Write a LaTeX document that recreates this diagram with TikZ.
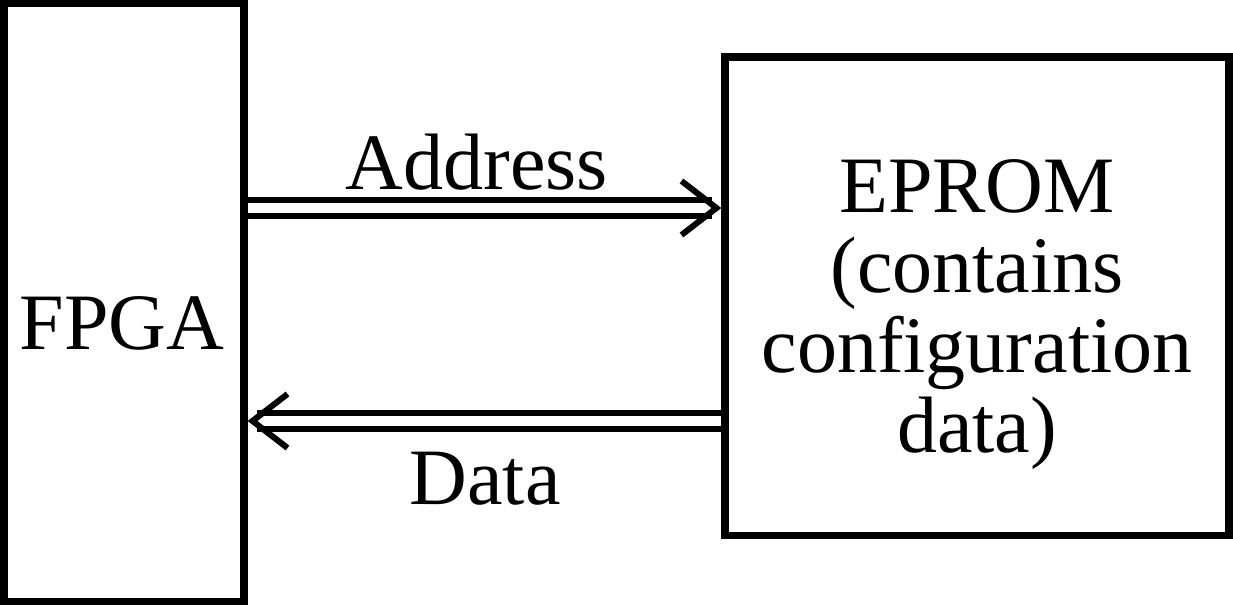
\documentclass[tikz,border=0pt]{standalone}
\usepackage{fontspec}
\setmainfont{Liberation Serif}
\begin{document}
\begin{tikzpicture}[x=0.75pt,y=-0.75pt,
  block/.style={draw, line width=5.6pt, inner sep=0pt, outer sep=0.5\pgflinewidth},
  bus/.style={line width=4.5pt, double, double distance=7.1pt},
  barb/.style={line width=4.5pt, line join=miter},
  txt/.style={font=\fontsize{60}{60}\selectfont, inner sep=0pt}]
  \useasboundingbox (0,0) rectangle (1233,605);

  % the two blocks
  \node[block, minimum width=180pt, minimum height=448.5pt] (fpga) at (124,302.5) {};
  \node[block, minimum width=378pt, minimum height=358.9pt] (eprom) at (977,296.25) {};

  \node[txt, anchor=base] (fpgalabel) at (122,350) {FPGA};
  \node[txt, align=center] (epromlabel) at (977,315)
    {EPROM\\(contains\\configuration\\data)};

  % address bus: FPGA -> EPROM
  \coordinate (atip) at ([xshift=-3.6pt]eprom.west |- 0,208);
  \draw[bus] (fpga.east |- 0,208) -- ([xshift=-3pt]atip);
  \draw[barb] ([shift={(-35,-27)}]atip) -- (atip) -- ([shift={(-35,27)}]atip);
  \node[txt, anchor=base] (addr) at (477,190) {Address};

  % data bus: EPROM -> FPGA
  \coordinate (dtip) at ([xshift=3.6pt]fpga.east |- 0,421);
  \draw[bus] (eprom.west |- 0,421) -- ([xshift=3pt]dtip);
  \draw[barb] ([shift={(35,-27)}]dtip) -- (dtip) -- ([shift={(35,27)}]dtip);
  \node[txt, anchor=base] (data) at (485,505) {Data};
\end{tikzpicture}
\end{document}
